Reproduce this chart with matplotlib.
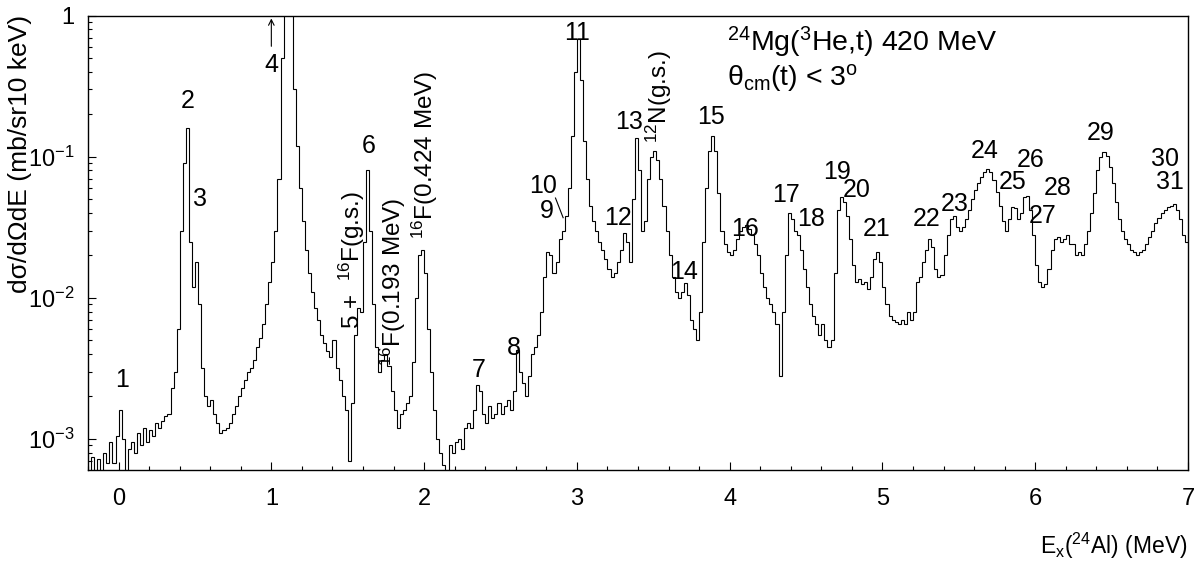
import numpy as np
import matplotlib
matplotlib.use('Agg')
from matplotlib import pyplot as plt
from matplotlib.ticker import FixedLocator, FixedFormatter, MultipleLocator, NullFormatter

plt.rcParams['font.family'] = ['Liberation Sans', 'DejaVu Sans']
plt.rcParams['mathtext.fontset'] = 'custom'
plt.rcParams['mathtext.rm'] = 'Liberation Sans'
plt.rcParams['mathtext.it'] = 'Liberation Sans:italic'

# 20 keV bins from -0.2 to 7.0 MeV, cross section in units of 1e-3 mb/sr/10keV
e_lo, bin_w = -0.2, 0.02
xsec_milli = [
    0.55, 0.75, 0.55, 0.72, 0.5, 0.8, 0.68, 0.95, 0.68, 1.05,      # -0.20
    1.6, 1.0, 0.45, 0.85, 0.95, 0.8, 1.1, 0.9, 1.2, 0.95,          # 0.00
    1.15, 1.05, 1.3, 1.2, 1.35, 1.45, 1.5, 2.3, 3.0, 6.0,          # 0.20
    30, 90, 160, 25, 12, 18, 9, 3.2, 2.0, 1.7,                     # 0.40
    1.9, 1.5, 1.3, 1.1, 1.15, 1.2, 1.3, 1.5, 1.7, 2.0,             # 0.60
    2.3, 2.6, 3.0, 3.2, 3.6, 4.5, 5.2, 6.5, 9, 13,                 # 0.80
    18, 30, 70, 500, 3000, 3000, 2000, 300, 120, 60,               # 1.00
    35, 22, 15, 11, 8.5, 7.0, 5.5, 4.8, 4.2, 3.8,                  # 1.20
    5.0, 3.2, 2.6, 2.0, 1.6, 0.7, 1.8, 5.5, 8.5, 8.0,              # 1.40
    25, 80, 30, 9, 4.5, 3.0, 3.6, 4.0, 3.3, 2.2,                   # 1.60
    1.6, 1.2, 1.5, 1.6, 1.8, 2.0, 3.5, 10, 20, 22,                 # 1.80
    15, 6, 3.0, 1.6, 1.0, 0.8, 0.65, 0.55, 0.9, 0.8,               # 2.00
    0.95, 1.0, 0.85, 1.2, 1.3, 1.2, 1.6, 2.4, 2.2, 1.5,            # 2.20
    1.3, 1.7, 1.4, 1.5, 1.8, 1.5, 1.7, 1.9, 1.6, 2.2,              # 2.40
    4.3, 3.0, 2.5, 2.0, 2.8, 4.0, 4.5, 5.5, 8, 14,                 # 2.60
    21, 20, 15, 18, 26, 30, 38, 60, 140, 400,                      # 2.80
    680, 350, 130, 70, 45, 35, 30, 25, 22, 19,                     # 3.00
    16, 14, 15, 18, 22, 29, 25, 18, 50, 135,                       # 3.20
    80, 30, 35, 70, 100, 110, 95, 70, 45, 30,                      # 3.40
    20, 14, 11, 10, 11, 12.8, 10.5, 7, 6.0, 5.0,                   # 3.60
    8, 25, 60, 110, 140, 110, 55, 30, 24, 21,                      # 3.80
    20, 22, 26, 30, 32, 33, 31, 28, 24, 20,                        # 4.00
    15, 12, 10, 9, 8, 6.5, 2.8, 8, 20, 40,                         # 4.20
    36, 30, 28, 22, 16, 12, 9, 7.5, 6.5, 5.5,                      # 4.40
    6.5, 5.0, 4.5, 5.0, 15, 42, 52, 48, 38, 26,                    # 4.60
    17, 13, 13.5, 12.5, 13, 11.5, 14, 19, 21, 18,                  # 4.80
    12, 9, 7.5, 7.0, 6.8, 6.5, 7.0, 6.5, 8.0, 7.0,                 # 5.00
    8.0, 13, 14, 18, 22, 26, 23, 16, 14, 14.5,                     # 5.20
    20, 28, 36, 38, 32, 30, 32, 36, 42, 50,                        # 5.40
    58, 65, 72, 78, 82, 78, 68, 56, 45, 35,                        # 5.60
    30, 36, 44, 43, 36, 40, 52, 53, 42, 28,                        # 5.80
    17, 13, 12, 12.5, 16, 22, 26, 27, 25, 26,                      # 6.00
    28, 24, 24, 20, 21, 20, 24, 30, 40, 55,                        # 6.20
    80, 100, 108, 102, 85, 65, 48, 36, 30, 26,                     # 6.40
    24, 22, 21, 20, 21, 22, 24, 27, 30, 34,                        # 6.60
    37, 40, 42, 44, 45, 46, 42, 36, 28, 25,                        # 6.80
]
xsec = np.array(xsec_milli) * 1e-3
edges = e_lo + bin_w * np.arange(len(xsec) + 1)

# peak labels: text, energy, height
peak_labels = [
    ("1", 0.02, 2.6e-3), ("2", 0.45, 0.25), ("3", 0.53, 0.05),
    ("6", 1.64, 0.12), ("7", 2.36, 3.1e-3), ("8", 2.59, 4.4e-3),
    ("9", 2.80, 0.041), ("10", 2.78, 0.062), ("11", 3.00, 0.76),
    ("12", 3.27, 0.037), ("13", 3.34, 0.175), ("14", 3.70, 0.0152),
    ("15", 3.88, 0.19), ("16", 4.10, 0.031), ("17", 4.37, 0.054),
    ("18", 4.53, 0.036), ("19", 4.70, 0.078), ("20", 4.83, 0.058),
    ("21", 4.96, 0.031), ("22", 5.29, 0.036), ("23", 5.47, 0.046),
    ("24", 5.67, 0.11), ("25", 5.85, 0.066), ("26", 5.97, 0.095),
    ("27", 6.05, 0.038), ("28", 6.15, 0.06), ("29", 6.43, 0.148),
    ("30", 6.85, 0.097), ("31", 6.88, 0.066),
]
# rotated labels: text, energy, lower end
side_labels = [
    (r"5 +  $^{16}$F(g.s.)", 1.527, 6.0e-3),
    (r"$^{16}$F(0.193 MeV)", 1.796, 3.3e-3),
    (r"$^{16}$F(0.424 MeV)", 2.005, 2.6e-2),
    (r"$^{12}$N(g.s.)", 3.54, 0.125),
]

fig = plt.figure(figsize=(11.95, 5.70), dpi=100)
ax = fig.add_axes([88/1195, 1-470/570, 1100/1195, (470-15.7)/570])

ax.stairs(xsec, edges, color='k', lw=0.8, baseline=None)
ax.set_yscale('log')
ax.set_xlim(-0.2, 7.0)
ax.set_ylim(10**-3.22, 1.0)

ax.xaxis.set_major_locator(MultipleLocator(1))
ax.xaxis.set_minor_locator(MultipleLocator(0.2))
ax.yaxis.set_major_locator(FixedLocator([1e-3, 1e-2, 1e-1, 1]))
ax.yaxis.set_major_formatter(FixedFormatter([r'$10^{-3}$', r'$10^{-2}$', r'$10^{-1}$', '1']))
ax.yaxis.set_minor_formatter(NullFormatter())
ax.tick_params(which='both', direction='in', top=False, right=False, labelsize=17, width=0.8)
ax.tick_params(axis='x', which='major', length=6, pad=13)
ax.tick_params(axis='x', which='minor', length=3)
ax.tick_params(axis='y', which='major', length=6, pad=10)
ax.tick_params(axis='y', which='minor', length=3)
for s in ax.spines.values():
    s.set_linewidth(1.0)

for txt, e, y in peak_labels:
    ax.text(e, y, txt, fontsize=18, ha='center', va='center')
for txt, e, y in side_labels:
    ax.text(e, y, txt, fontsize=17.5, rotation=90, ha='center', va='bottom')

# off-scale peak 4
ax.annotate('', xy=(1.0, 1.0), xytext=(1.0, 0.58),
            arrowprops=dict(arrowstyle='->', lw=0.8, color='k'))
ax.text(1.0, 0.45, "4", fontsize=18, ha='center', va='center')
ax.plot([2.86, 2.91], [0.051, 0.037], color='k', lw=0.8)

ax.text(3.98, 0.65, r"$^{24}$Mg($^{3}$He,t) 420 MeV", fontsize=20.5, ha='left', va='center')
ax.text(3.98, 0.36, r"θ$_{\rm cm}$(t) < 3$^{\rm o}$", fontsize=20.5, ha='left', va='center')

fig.text(20/1195, 1-15/570, "dσ/dΩdE (mb/sr10 keV)", fontsize=19,
         rotation=90, ha='center', va='top')
fig.text(1188/1195, 1-546/570, r"E$_{\rm x}$($^{24}$Al) (MeV)", fontsize=16.5,
         ha='right', va='center')

fig.savefig('out.png', dpi=100)
